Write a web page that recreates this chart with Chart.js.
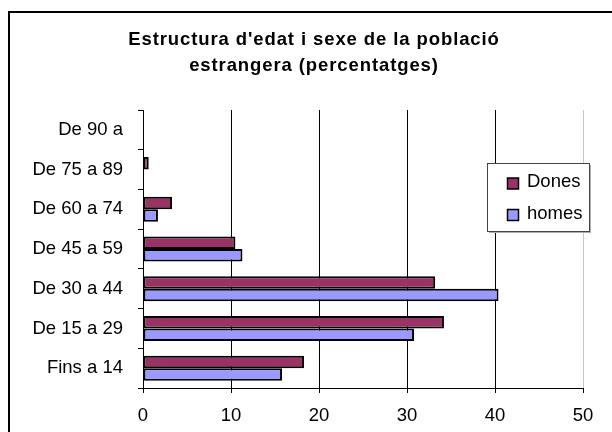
<!DOCTYPE html>
<html>
<head>
<meta charset="utf-8">
<script src="https://cdn.jsdelivr.net/npm/chart.js@4"></script>
<style>
  html, body { margin: 0; padding: 0; background: #fff; }
  #wrap { width: 612px; height: 432px; }
</style>
</head>
<body>
<div id="wrap"><canvas id="chart" width="612" height="432"></canvas></div>
<script>
// age groups, top to bottom
const ageGroups = ['De 90 a', 'De 75 a 89', 'De 60 a 74', 'De 45 a 59', 'De 30 a 44', 'De 15 a 29', 'Fins a 14'];
const dones = [0, 0.65, 3.3, 10.5, 33.2, 34.2, 18.3];
const homes = [0, 0, 1.7, 11.3, 40.4, 30.8, 15.8];
const xTicks = [0, 10, 20, 30, 40, 50];
const titleLines = ["Estructura d'edat i sexe de la població", 'estrangera (percentatges)'];

const FONT = '"Liberation Sans", Arial, sans-serif';

// frame + title
const framePlugin = {
  id: 'frame',
  beforeDraw(chart) {
    const ctx = chart.ctx;
    ctx.save();
    ctx.strokeStyle = '#000';
    ctx.lineWidth = 2;
    ctx.strokeRect(9, 12, 700, 500);
    ctx.fillStyle = '#000';
    ctx.font = 'bold 18.5px ' + FONT;
    ctx.letterSpacing = '0.9px';
    ctx.textAlign = 'center';
    ctx.textBaseline = 'alphabetic';
    ctx.fillText(titleLines[0], 314, 45);
    ctx.fillText(titleLines[1], 314, 71);
    ctx.restore();
  }
};

// legend box sitting over the plot, like the original
const legendBox = {
  id: 'legendBox',
  afterDraw(chart) {
    const ctx = chart.ctx;
    const x = 487, y = 163, w = 102, h = 68;
    ctx.save();
    ctx.fillStyle = '#b0b0b0';
    ctx.fillRect(x + 2, y + 2, w, h);
    ctx.fillStyle = '#fff';
    ctx.fillRect(x, y, w, h);
    ctx.strokeStyle = '#444';
    ctx.lineWidth = 1;
    ctx.strokeRect(x + 0.5, y + 0.5, w, h);
    const rows = [183, 214.5];
    chart.data.datasets.forEach((ds, i) => {
      const cy = rows[i];
      ctx.fillStyle = ds.backgroundColor;
      ctx.fillRect(507.5, cy - 5, 11, 11);
      ctx.strokeStyle = '#000';
      ctx.lineWidth = 1.5;
      ctx.strokeRect(507.5, cy - 5, 11, 11);
      ctx.fillStyle = '#000';
      ctx.font = '18.5px ' + FONT;
      ctx.textBaseline = 'alphabetic';
      ctx.fillText(ds.label, 527, cy + 4);
    });
    ctx.restore();
  }
};

new Chart(document.getElementById('chart'), {
  type: 'bar',
  data: {
    labels: ageGroups,
    datasets: [
      { label: 'Dones', data: dones, backgroundColor: '#993366', borderColor: '#000', borderWidth: 2, borderSkipped: false },
      { label: 'homes', data: homes, backgroundColor: '#9999FF', borderColor: '#000', borderWidth: 2, borderSkipped: false }
    ]
  },
  options: {
    indexAxis: 'y',
    responsive: false,
    animation: false,
    categoryPercentage: 0.63,
    barPercentage: 1,
    layout: { padding: { left: 0, top: 110, right: 29, bottom: 0 } },
    plugins: {
      legend: { display: false },
      title: { display: false },
      tooltip: { enabled: false }
    },
    scales: {
      x: {
        min: 0,
        max: 50,
        afterBuildTicks(scale) { scale.ticks = xTicks.map(v => ({ value: v })); },
        afterFit(scale) { scale.height = 44; },
        border: { color: '#000', width: 1 },
        grid: {
          color: ctx => (ctx.tick && ctx.tick.value === 50 ? '#c8c8c8' : '#000'),
          tickColor: '#000',
          tickLength: 5
        },
        ticks: { color: '#000', font: { family: FONT, size: 18.5 }, padding: 12, maxRotation: 0 }
      },
      y: {
        afterFit(scale) { scale.width = 143; },
        border: { color: '#000', width: 1 },
        grid: { drawOnChartArea: false, color: '#000', tickLength: 5, offset: true },
        ticks: { color: '#000', font: { family: FONT, size: 18.5 }, padding: 15 }
      }
    }
  },
  plugins: [framePlugin, legendBox]
});
</script>
</body>
</html>
